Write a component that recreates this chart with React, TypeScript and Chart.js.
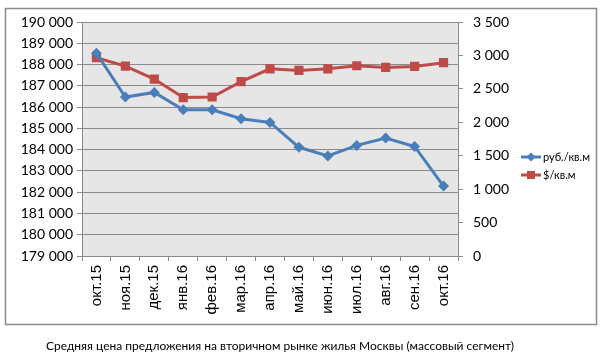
import React, { useEffect, useRef } from "react";
import { Chart, registerables } from "chart.js";

Chart.register(...registerables);

const categories = ["окт.15", "ноя.15", "дек.15", "янв.16", "фев.16", "мар.16", "апр.16", "май.16", "июн.16", "июл.16", "авг.16", "сен.16", "окт.16"];
const rubValues = [188530, 186470, 186690, 185870, 185870, 185450, 185280, 184110, 183700, 184200, 184550, 184150, 182290];
const usdValues = [2966, 2840, 2646, 2369, 2378, 2607, 2800, 2776, 2800, 2846, 2821, 2836, 2891];
const seriesNames = ["руб./кв.м", "$/кв.м"];
const chartTitle = "Средняя цена предложения на вторичном рынке жилья Москвы (массовый сегмент)";

const BLUE = "#4a7ebb";
const RED = "#be4b48";
const FONT = "Lato, 'Open Sans', sans-serif";
const XFONT = "'Liberation Sans', Arial, sans-serif";

const fmt = (v: number) => String(Math.round(v)).replace(/\B(?=(\d{3})+(?!\d))/g, " ");

const decorPlugin = {
  id: "decor",
  beforeDraw(chart: any) {
    const { ctx, chartArea } = chart;
    ctx.save();
    ctx.fillStyle = "#ffffff";
    ctx.fillRect(0, 0, chart.width, chart.height);
    ctx.strokeStyle = "#8a8a8a";
    ctx.lineWidth = 1.5;
    ctx.strokeRect(5.5, 8.5, 591, 316);
    ctx.fillStyle = "#e6e6e6";
    ctx.fillRect(chartArea.left, chartArea.top, chartArea.right - chartArea.left, chartArea.bottom - chartArea.top);
    ctx.restore();
  },
  afterDraw(chart: any) {
    const { ctx } = chart;
    ctx.save();
    const items = [
      { color: BLUE, style: "diamond", y: 157, text: seriesNames[0] },
      { color: RED, style: "square", y: 175, text: seriesNames[1] },
    ];
    items.forEach((it) => {
      ctx.strokeStyle = it.color;
      ctx.lineWidth = 3;
      ctx.beginPath();
      ctx.moveTo(521, it.y);
      ctx.lineTo(541, it.y);
      ctx.stroke();
      ctx.fillStyle = it.color;
      if (it.style === "diamond") {
        ctx.beginPath();
        ctx.moveTo(531, it.y - 4.5);
        ctx.lineTo(535.5, it.y);
        ctx.lineTo(531, it.y + 4.5);
        ctx.lineTo(526.5, it.y);
        ctx.closePath();
        ctx.fill();
      } else {
        ctx.fillRect(527, it.y - 4, 8, 8);
      }
      ctx.fillStyle = "#000";
      ctx.font = `11px ${FONT}`;
      ctx.textBaseline = "middle";
      ctx.textAlign = "left";
      ctx.fillText(it.text, 543, it.y);
    });
    ctx.font = `12px ${FONT}`;
    ctx.textAlign = "center";
    ctx.textBaseline = "middle";
    ctx.fillStyle = "#000";
    ctx.fillText(chartTitle, 280, 346);
    ctx.restore();
  },
};

export default function App() {
  const ref = useRef<HTMLCanvasElement>(null);
  useEffect(() => {
    document.body.style.margin = "0";
    const chart = new Chart(ref.current!, {
      type: "line",
      data: {
        labels: categories,
        datasets: [
          {
            label: seriesNames[0],
            data: rubValues,
            yAxisID: "y",
            borderColor: BLUE,
            backgroundColor: BLUE,
            borderWidth: 3,
            pointStyle: "rectRot",
            pointRadius: 5.5,
            pointBorderWidth: 0,
            tension: 0,
          },
          {
            label: seriesNames[1],
            data: usdValues,
            yAxisID: "y1",
            borderColor: RED,
            backgroundColor: RED,
            borderWidth: 3,
            pointStyle: "rect",
            pointRadius: 6.5,
            pointBorderWidth: 0,
            tension: 0,
          },
        ],
      },
      options: {
        animation: false,
        responsive: false,
        layout: { padding: { left: 5, top: 22, right: 86, bottom: 40 } },
        plugins: { legend: { display: false }, tooltip: { enabled: false } },
        scales: {
          x: {
            offset: true,
            grid: { offset: true, drawOnChartArea: false, drawTicks: true, tickLength: 5, color: "#8a8a8a" },
            border: { color: "#8a8a8a", width: 1 },
            ticks: { minRotation: 90, maxRotation: 90, color: "#000", font: { family: XFONT, size: 15 }, padding: 4 },
            afterFit: (s: any) => { s.height = 65; },
          },
          y: {
            position: "left",
            min: 179000,
            max: 190000,
            ticks: { stepSize: 1000, color: "#000", font: { family: FONT, size: 14 }, padding: 4, callback: (v: any) => fmt(Number(v)) },
            grid: { color: "#8a8a8a", tickLength: 5 },
            border: { color: "#8a8a8a", width: 1 },
            afterFit: (s: any) => { s.width = 77; },
          },
          y1: {
            position: "right",
            min: 0,
            max: 3500,
            ticks: { stepSize: 500, color: "#000", font: { family: FONT, size: 14 }, padding: 10, callback: (v: any) => fmt(Number(v)) },
            grid: { drawOnChartArea: false, color: "#8a8a8a", tickLength: 5 },
            border: { color: "#8a8a8a", width: 1 },
            afterFit: (s: any) => { s.width = 60; },
          },
        },
      },
      plugins: [decorPlugin],
    });
    return () => chart.destroy();
  }, []);
  return (
    <div style={{ position: "absolute", left: 0, top: 0, width: 604, height: 361 }}>
      <canvas ref={ref} width={604} height={361} />
    </div>
  );
}
